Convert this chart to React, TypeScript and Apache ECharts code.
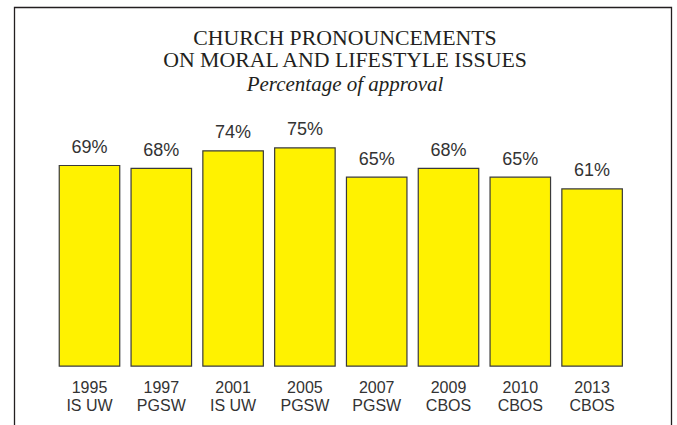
import React, { useEffect, useRef } from "react";
import * as echarts from "echarts";

const categories = ["1995\nIS UW", "1997\nPGSW", "2001\nIS UW", "2005\nPGSW", "2007\nPGSW", "2009\nCBOS", "2010\nCBOS", "2013\nCBOS"];
const approval = [69, 68, 74, 75, 65, 68, 65, 61];
const titleLines = ["CHURCH PRONOUNCEMENTS", "ON MORAL AND LIFESTYLE ISSUES"];
const subtitleText = "Percentage of approval";

export default function App() {
  const ref = useRef<HTMLDivElement>(null);
  useEffect(() => {
    if (!ref.current) return;
    const chart = echarts.init(ref.current, null, { renderer: "svg" });
    const titleFont = {
      fontFamily: "Liberation Serif",
      fontSize: 21.8,
      fill: "#231f20",
      align: "center",
      verticalAlign: "middle",
    };
    chart.setOption({
      animation: false,
      backgroundColor: "#ffffff",
      graphic: [
        {
          type: "rect",
          shape: { x: 14.5, y: 7.5, width: 657, height: 440 },
          style: { fill: "none", stroke: "#231f20", lineWidth: 1.3 },
          silent: true,
        },
        {
          type: "text",
          x: 345,
          y: 38.3,
          silent: true,
          style: { ...titleFont, text: titleLines[0] },
        },
        {
          type: "text",
          x: 345,
          y: 60.4,
          silent: true,
          style: { ...titleFont, text: titleLines[1] },
        },
        {
          type: "text",
          x: 345,
          y: 84,
          silent: true,
          style: { ...titleFont, fontSize: 21, fontStyle: "italic", text: subtitleText },
        },
      ],
      grid: { left: 53.6, right: 49, top: 74.2, bottom: 58.3 },
      xAxis: {
        type: "category",
        data: categories,
        axisLine: { show: false },
        axisTick: { show: false },
        axisLabel: {
          margin: 12,
          fontFamily: "Liberation Sans",
          fontSize: 16,
          lineHeight: 18,
          color: "#333333",
          interval: 0,
        },
      },
      yAxis: {
        type: "value",
        min: 0,
        max: 100,
        show: false,
        splitLine: { show: false },
      },
      series: [
        {
          type: "bar",
          data: approval,
          barWidth: 61.7,
          itemStyle: { color: "#fff200", borderColor: "#3a3a3a", borderWidth: 1.2 },
          label: {
            show: true,
            position: "top",
            distance: 9,
            formatter: "{c}%",
            fontFamily: "Liberation Sans",
            fontSize: 18,
            lineHeight: 18,
            color: "#333333",
          },
        },
      ],
    });
    return () => chart.dispose();
  }, []);
  return <div ref={ref} style={{ position: "fixed", left: 0, top: 0, width: 677, height: 425 }} />;
}
